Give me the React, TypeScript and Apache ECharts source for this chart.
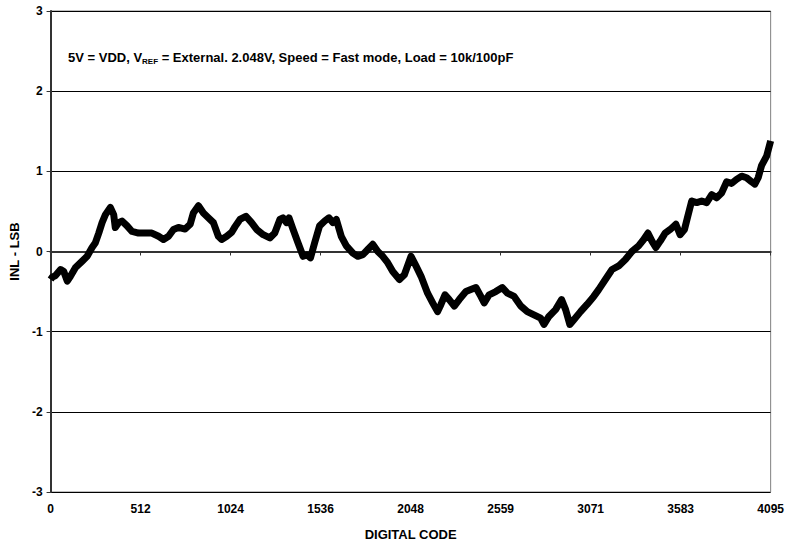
import React, { useEffect, useRef } from "react";
import * as echarts from "echarts";

const codes: number[] = [
  0, 10, 28, 57, 75, 95, 113, 142, 180, 208, 236, 255, 274, 293, 312, 340, 359, 368, 387, 406,
  435, 463, 500, 538, 576, 614, 642, 671, 699, 727, 765, 794, 812, 841, 869, 897, 926, 954, 973,
  1002, 1030, 1049, 1077, 1111, 1143, 1172, 1209, 1247, 1275, 1304, 1322, 1342, 1356, 1379, 1407,
  1436, 1458, 1478, 1502, 1530, 1559, 1583, 1606, 1625, 1653, 1682, 1719, 1747, 1776, 1804, 1832,
  1861, 1889, 1917, 1946, 1984, 2012, 2050, 2078, 2107, 2144, 2173, 2201, 2220, 2243, 2267, 2296,
  2324, 2362, 2390, 2419, 2447, 2466, 2494, 2532, 2569, 2598, 2636, 2674, 2711, 2749, 2787, 2806,
  2834, 2872, 2906, 2929, 2953, 2976, 3014, 3051, 3089, 3117, 3155, 3193, 3231, 3269, 3306, 3344,
  3373, 3397, 3420, 3442, 3467, 3495, 3524, 3556, 3580, 3605, 3624, 3646, 3675, 3703, 3731, 3760,
  3788, 3816, 3845, 3873, 3901, 3930, 3958, 3986, 4005, 4024, 4043, 4072, 4095,
];

const inl: number[] = [
  -0.35, -0.32, -0.3, -0.225, -0.25, -0.37, -0.31, -0.2, -0.12, -0.06, 0.05, 0.11, 0.23, 0.36, 0.46,
  0.55, 0.46, 0.3, 0.36, 0.38, 0.32, 0.25, 0.23, 0.23, 0.23, 0.19, 0.15, 0.19, 0.275, 0.3, 0.28,
  0.34, 0.48, 0.57, 0.48, 0.42, 0.36, 0.19, 0.15, 0.19, 0.24, 0.31, 0.4, 0.44, 0.36, 0.275, 0.21,
  0.17, 0.23, 0.4, 0.42, 0.36, 0.42, 0.275, 0.11, -0.06, -0.04, -0.08, 0.11, 0.32, 0.38, 0.42, 0.36,
  0.4, 0.19, 0.07, -0.02, -0.06, -0.04, 0.025, 0.09, 0.0, -0.06, -0.14, -0.25, -0.35, -0.29, -0.06,
  -0.18, -0.31, -0.52, -0.64, -0.75, -0.66, -0.54, -0.6, -0.68, -0.6, -0.5, -0.475, -0.45, -0.56,
  -0.64, -0.54, -0.5, -0.45, -0.52, -0.56, -0.68, -0.75, -0.79, -0.83, -0.91, -0.81, -0.725, -0.6,
  -0.725, -0.91, -0.85, -0.75, -0.66, -0.56, -0.475, -0.35, -0.225, -0.18, -0.1, 0.0, 0.07, 0.15,
  0.23, 0.13, 0.05, 0.13, 0.23, 0.275, 0.34, 0.21, 0.275, 0.44, 0.63, 0.61, 0.63, 0.61, 0.71, 0.67,
  0.73, 0.87, 0.85, 0.9, 0.94, 0.92, 0.87, 0.84, 0.92, 1.07, 1.19, 1.38,
];

const xTickStep = 4095 / 8;
const annotationParts = ["5V = VDD, V", "REF", " = External. 2.048V, Speed = Fast mode, Load = 10k/100pF"];
const xTitle = "DIGITAL CODE";
const yTitle = "INL - LSB";

const FONT = "'Liberation Sans', Arial, Helvetica, sans-serif";

export default function App() {
  const ref = useRef<HTMLDivElement>(null);
  useEffect(() => {
    if (!ref.current) return;
    const chart = echarts.init(ref.current, undefined, { renderer: "svg" });
    const data = codes.map((c, i) => [c, inl[i]]);
    chart.setOption({
      animation: false,
      backgroundColor: "#ffffff",
      grid: {
        left: 50,
        right: 14,
        top: 11,
        bottom: 54,
        show: true,
        borderColor: "#808080",
        borderWidth: 1,
        backgroundColor: "#ffffff",
      },
      xAxis: {
        type: "value",
        min: 0,
        max: 4095,
        interval: xTickStep,
        name: xTitle,
        nameLocation: "middle",
        nameGap: 36,
        nameTextStyle: { fontFamily: FONT, fontWeight: "bold", fontSize: 13, color: "#000" },
        axisLine: { show: true, lineStyle: { color: "#333", width: 2 } },
        axisTick: { show: true, length: 4, lineStyle: { color: "#333", width: 1 } },
        axisLabel: {
          margin: 11,
          fontFamily: FONT,
          fontWeight: "bold",
          fontSize: 12,
          color: "#000",
          formatter: (v: number) => String(Math.round(v)),
        },
        splitLine: { show: false },
      },
      yAxis: {
        type: "value",
        min: -3,
        max: 3,
        interval: 1,
        name: yTitle,
        nameLocation: "middle",
        nameGap: 29,
        nameTextStyle: { fontFamily: FONT, fontWeight: "bold", fontSize: 13, color: "#000" },
        axisLine: { show: true, lineStyle: { color: "#333", width: 2 } },
        axisTick: { show: true, length: 4, lineStyle: { color: "#333", width: 1 } },
        axisLabel: { margin: 8, fontFamily: FONT, fontWeight: "bold", fontSize: 12, color: "#000" },
        splitLine: { show: true, lineStyle: { color: "#000", width: 1 } },
      },
      graphic: [
        {
          type: "text",
          left: 68,
          top: 49,
          style: {
            text: `{a|${annotationParts[0]}}{s|${annotationParts[1]}}{a|${annotationParts[2]}}`,
            rich: {
              a: { fontFamily: FONT, fontWeight: "bold", fontSize: 13, fill: "#000", lineHeight: 16 },
              s: {
                fontFamily: FONT,
                fontWeight: "bold",
                fontSize: 8,
                fill: "#000",
                lineHeight: 16,
                padding: [8, 0, 0, 0],
              },
            },
          },
        },
      ],
      series: [
        {
          type: "line",
          data,
          showSymbol: false,
          symbol: "none",
          lineStyle: { color: "#000", width: 7, join: "round" },
          z: 3,
        },
      ],
    });
    return () => chart.dispose();
  }, []);
  return (
    <div
      ref={ref}
      style={{ position: "fixed", left: 0, top: 0, width: 787, height: 546, background: "#fff" }}
    />
  );
}
